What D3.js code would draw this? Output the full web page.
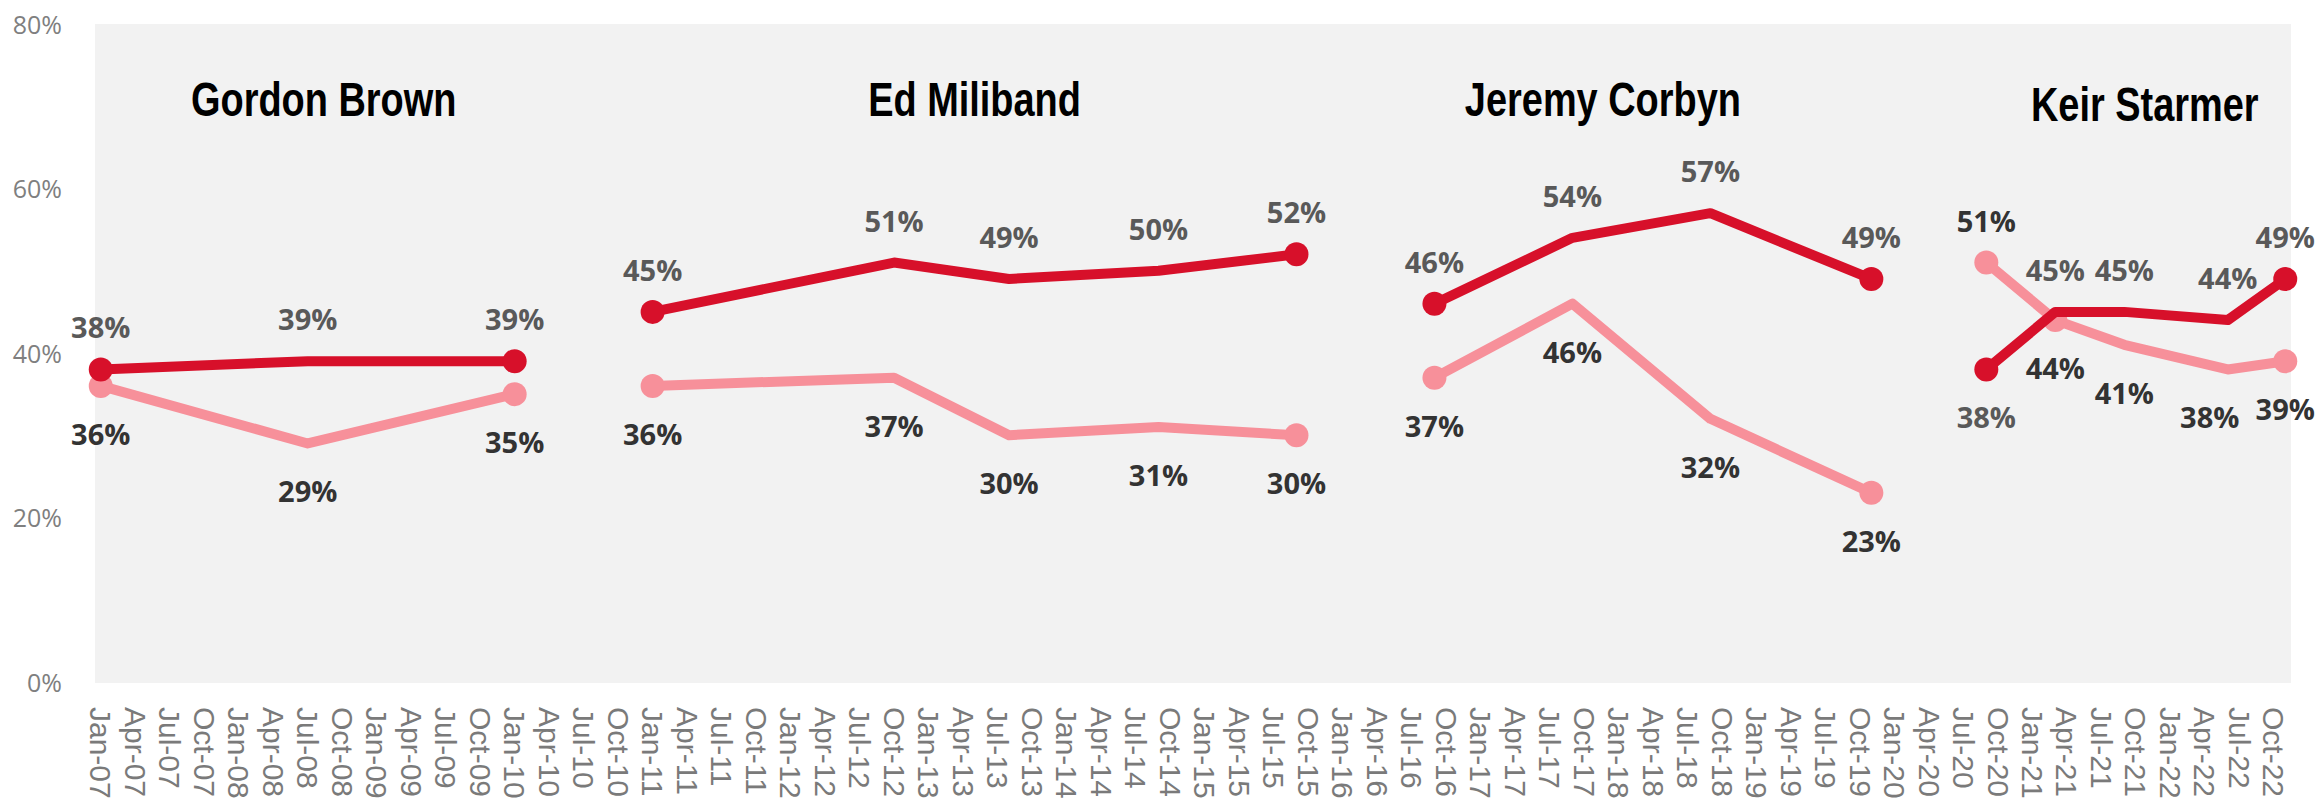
<!DOCTYPE html>
<html>
<head>
<meta charset="utf-8">
<script src="https://cdn.jsdelivr.net/npm/d3@7"></script>
<style>
  body { margin: 0; background: #fff; }
  svg { display: block; }
</style>
</head>
<body>
<div id="chart"></div>
<script>
// leaders and the months each poll was taken (YYYY-MM)
const leaders = ["Gordon Brown", "Ed Miliband", "Jeremy Corbyn", "Keir Starmer"];
const brownDates   = ["2007-01", "2008-07", "2010-01"];
const milibandDates = ["2011-01", "2012-10", "2013-08", "2014-09", "2015-09"];
const corbynDates  = ["2016-09", "2017-09", "2018-09", "2019-11"];
const starmerDates = ["2020-09", "2021-03", "2021-09", "2022-06", "2022-11"];

// dark red series
const brownDark    = [38, 39, 39];
const milibandDark = [45, 51, 49, 50, 52];
const corbynDark   = [46, 54, 57, 49];
const starmerDark  = [38, 45, 45, 44, 49];

// light pink series
const brownLight    = [36, 29, 35];
const milibandLight = [36, 37, 30, 31, 30];
const corbynLight   = [37, 46, 32, 23];
const starmerLight  = [51, 44, 41, 38, 39];

const yTicks = [0, 20, 40, 60, 80];
const firstMonth = "2007-01", lastMonth = "2022-11";

// layout tweaks (not data)
const titleNudge = {"Gordon Brown": [16, 0], "Ed Miliband": [0, 0], "Jeremy Corbyn": [-50, 0], "Keir Starmer": [9, 5]};
const labelNudge = {"Keir Starmer|light|3": -18};
const extraMarkers = {"Keir Starmer|light": [1]};

const W = 2321, H = 805;
const darkCol = "#d7102a", lightCol = "#f7909a";

function monthIdx(s) {
    var p = s.split("-").map(Number);
    return (p[0] - 2007) * 12 + (p[1] - 1);
}

var groups = [
    {name: leaders[0], dates: brownDates, dark: brownDark, light: brownLight},
    {name: leaders[1], dates: milibandDates, dark: milibandDark, light: milibandLight},
    {name: leaders[2], dates: corbynDates, dark: corbynDark, light: corbynLight},
    {name: leaders[3], dates: starmerDates, dark: starmerDark, light: starmerLight}
];

var x = d3.scaleLinear()
    .domain([monthIdx(firstMonth) - 0.5, monthIdx(lastMonth) + 0.5])
    .range([95, 2291]);
var y = d3.scaleLinear().domain([0, 80]).range([682, 24]);

var svg = d3.select("#chart").append("svg")
    .attr("width", W).attr("height", H);

// plot area background
svg.append("rect")
    .attr("x", x.range()[0]).attr("y", y(80))
    .attr("width", x.range()[1] - x.range()[0])
    .attr("height", y(0) - y(80) + 1)
    .attr("fill", "#f2f2f2");

// y axis
var yAxis = svg.append("g")
    .attr("transform", "translate(62,0)")
    .call(d3.axisLeft(y).tickValues(yTicks).tickFormat(function(d) { return d + "%"; }).tickSize(0).tickPadding(0));
yAxis.select(".domain").remove();
yAxis.selectAll("text")
    .attr("dy", "0.36em")
    .style("font-family", "'Open Sans', sans-serif")
    .style("font-size", "25px")
    .style("fill", "#7f7f7f");

// x axis: quarterly ticks
var tickMonths = d3.range(monthIdx(firstMonth), monthIdx(lastMonth), 3);
var fmt = d3.timeFormat("%b-%y");
var xAxis = svg.append("g")
    .attr("transform", "translate(0,707)")
    .call(d3.axisBottom(x).tickValues(tickMonths)
        .tickFormat(function(m) { return fmt(new Date(2007, m, 1)); })
        .tickSize(0));
xAxis.select(".domain").remove();
xAxis.selectAll("text")
    .attr("x", 0).attr("y", 0).attr("dy", "0.36em")
    .attr("transform", "rotate(90)")
    .style("text-anchor", "start")
    .style("font-family", "'Liberation Sans', Arial, sans-serif")
    .style("font-size", "30px")
    .style("fill", "#7a7a7a");

var line = d3.line()
    .x(function(d) { return x(d.m); })
    .y(function(d) { return y(d.v); });

groups.forEach(function(g) {
    var ms = g.dates.map(monthIdx);
    var light = ms.map(function(m, i) { return {m: m, v: g.light[i], other: g.dark[i], i: i}; });
    var dark = ms.map(function(m, i) { return {m: m, v: g.dark[i], other: g.light[i], i: i}; });
    var gg = svg.append("g");

    [["light", light, lightCol], ["dark", dark, darkCol]].forEach(function(s) {
        var key = g.name + "|" + s[0];
        gg.append("path")
            .datum(s[1])
            .attr("d", line)
            .attr("fill", "none")
            .attr("stroke", s[2])
            .attr("stroke-width", 10)
            .attr("stroke-linejoin", "round");
        var mk = [0, s[1].length - 1].concat(extraMarkers[key] || []);
        gg.selectAll(null)
            .data(s[1].filter(function(d) { return mk.indexOf(d.i) >= 0; }))
            .enter().append("circle")
            .attr("cx", function(d) { return x(d.m); })
            .attr("cy", function(d) { return y(d.v); })
            .attr("r", 12)
            .attr("fill", s[2]);
    });

    // labels: the higher value of the pair sits above, the lower below
    [["light", light, "#333333"], ["dark", dark, "#595959"]].forEach(function(s) {
        var key = g.name + "|" + s[0];
        svg.selectAll(null)
            .data(s[1])
            .enter().append("text")
            .attr("x", function(d) { return x(d.m) + (labelNudge[key + "|" + d.i] || 0); })
            .attr("y", function(d) { return d.v >= d.other ? y(d.v) - 31 : y(d.v) + 59; })
            .attr("text-anchor", "middle")
            .style("font-family", "'Open Sans', sans-serif")
            .style("font-weight", "700")
            .style("font-size", "29px")
            .style("fill", s[2])
            .text(function(d) { return d.v + "%"; });
    });

    // leader title over the middle of the period
    var cx = x((ms[0] + ms[ms.length - 1]) / 2) + titleNudge[g.name][0];
    svg.append("text")
        .attr("transform", "translate(" + cx + "," + (116 + titleNudge[g.name][1]) + ") scale(0.79,1)")
        .attr("text-anchor", "middle")
        .style("font-family", "'Liberation Sans', Arial, sans-serif")
        .style("font-weight", "700")
        .style("font-size", "48px")
        .style("fill", "#000")
        .text(g.name);
});
</script>
</body>
</html>
